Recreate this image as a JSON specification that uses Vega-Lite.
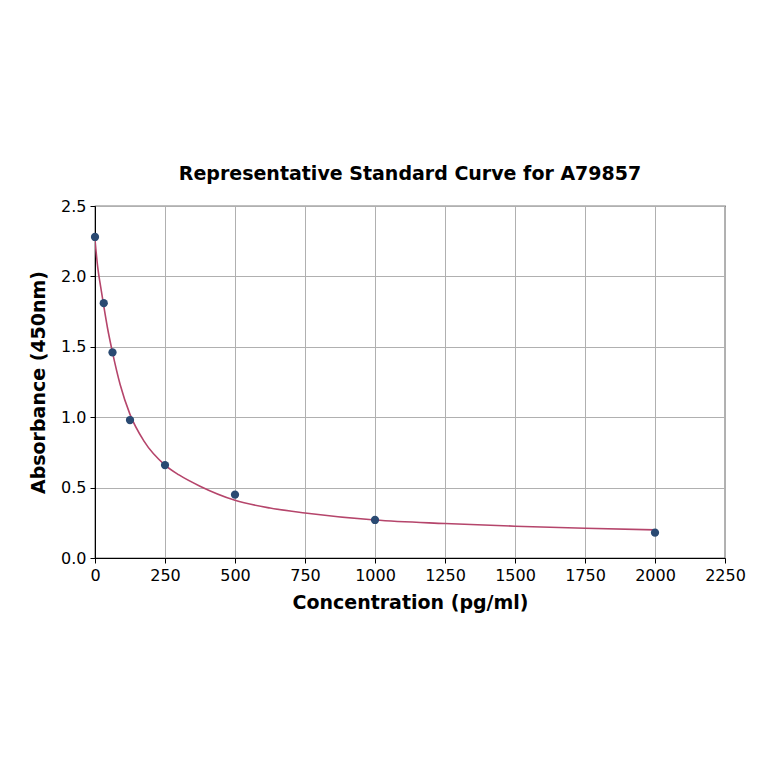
{
  "$schema": "https://vega.github.io/schema/vega-lite/v6.json",
  "width": 630,
  "height": 352,
  "autosize": "none",
  "padding": {"left": 95, "top": 206, "right": 39, "bottom": 206},
  "background": "#ffffff",
  "config": {
    "font": "DejaVu Sans",
    "view": {"stroke": "#000000", "strokeWidth": 1.2},
    "axis": {
      "labelFont": "DejaVu Sans",
      "labelFontSize": 16,
      "labelColor": "#000000",
      "labelFlush": false,
      "titleFont": "DejaVu Sans",
      "titleFontSize": 19,
      "titleFontWeight": "bold",
      "titleColor": "#000000",
      "domainColor": "#000000",
      "tickColor": "#000000",
      "tickSize": 5,
      "gridColor": "#b0b0b0",
      "gridWidth": 1
    }
  },
  "title": {
    "text": "Representative Standard Curve for A79857",
    "font": "DejaVu Sans",
    "fontSize": 19,
    "fontWeight": "bold",
    "color": "#000000",
    "offset": 14
  },
  "datasets": {
    "points": [
      {"conc": 0, "od": 2.28},
      {"conc": 31.25, "od": 1.81},
      {"conc": 62.5, "od": 1.46},
      {"conc": 125, "od": 0.98},
      {"conc": 250, "od": 0.66},
      {"conc": 500, "od": 0.45},
      {"conc": 1000, "od": 0.27},
      {"conc": 2000, "od": 0.18}
    ],
    "curve": [
      {"conc": 0, "od": 2.26},
      {"conc": 10, "od": 2.06},
      {"conc": 20, "od": 1.93},
      {"conc": 31.25, "od": 1.79},
      {"conc": 45, "od": 1.63},
      {"conc": 62.5, "od": 1.46},
      {"conc": 90, "od": 1.23},
      {"conc": 125, "od": 1.02},
      {"conc": 175, "od": 0.83},
      {"conc": 250, "od": 0.66},
      {"conc": 300, "od": 0.59},
      {"conc": 375, "od": 0.51},
      {"conc": 500, "od": 0.41},
      {"conc": 625, "od": 0.355},
      {"conc": 750, "od": 0.32},
      {"conc": 1000, "od": 0.27},
      {"conc": 1250, "od": 0.245},
      {"conc": 1500, "od": 0.226},
      {"conc": 1750, "od": 0.211},
      {"conc": 2000, "od": 0.2}
    ]
  },
  "encoding": {
    "x": {
      "field": "conc",
      "type": "quantitative",
      "scale": {"domain": [0, 2250], "nice": false, "zero": true},
      "axis": {
        "values": [0, 250, 500, 750, 1000, 1250, 1500, 1750, 2000, 2250],
        "format": "d",
        "labelPadding": 4,
        "titlePadding": 10
      },
      "title": "Concentration (pg/ml)"
    },
    "y": {
      "field": "od",
      "type": "quantitative",
      "scale": {"domain": [0, 2.5], "nice": false},
      "axis": {
        "values": [0, 0.5, 1, 1.5, 2, 2.5],
        "format": ".1f",
        "labelPadding": 4,
        "titlePadding": 12
      },
      "title": "Absorbance (450nm)"
    }
  },
  "layer": [
    {
      "data": {"name": "curve"},
      "mark": {"type": "line", "color": "#b5456b", "strokeWidth": 1.6, "interpolate": "monotone", "clip": true}
    },
    {
      "data": {"name": "points"},
      "mark": {"type": "circle", "color": "#2a4a72", "opacity": 1, "size": 68}
    }
  ]
}
